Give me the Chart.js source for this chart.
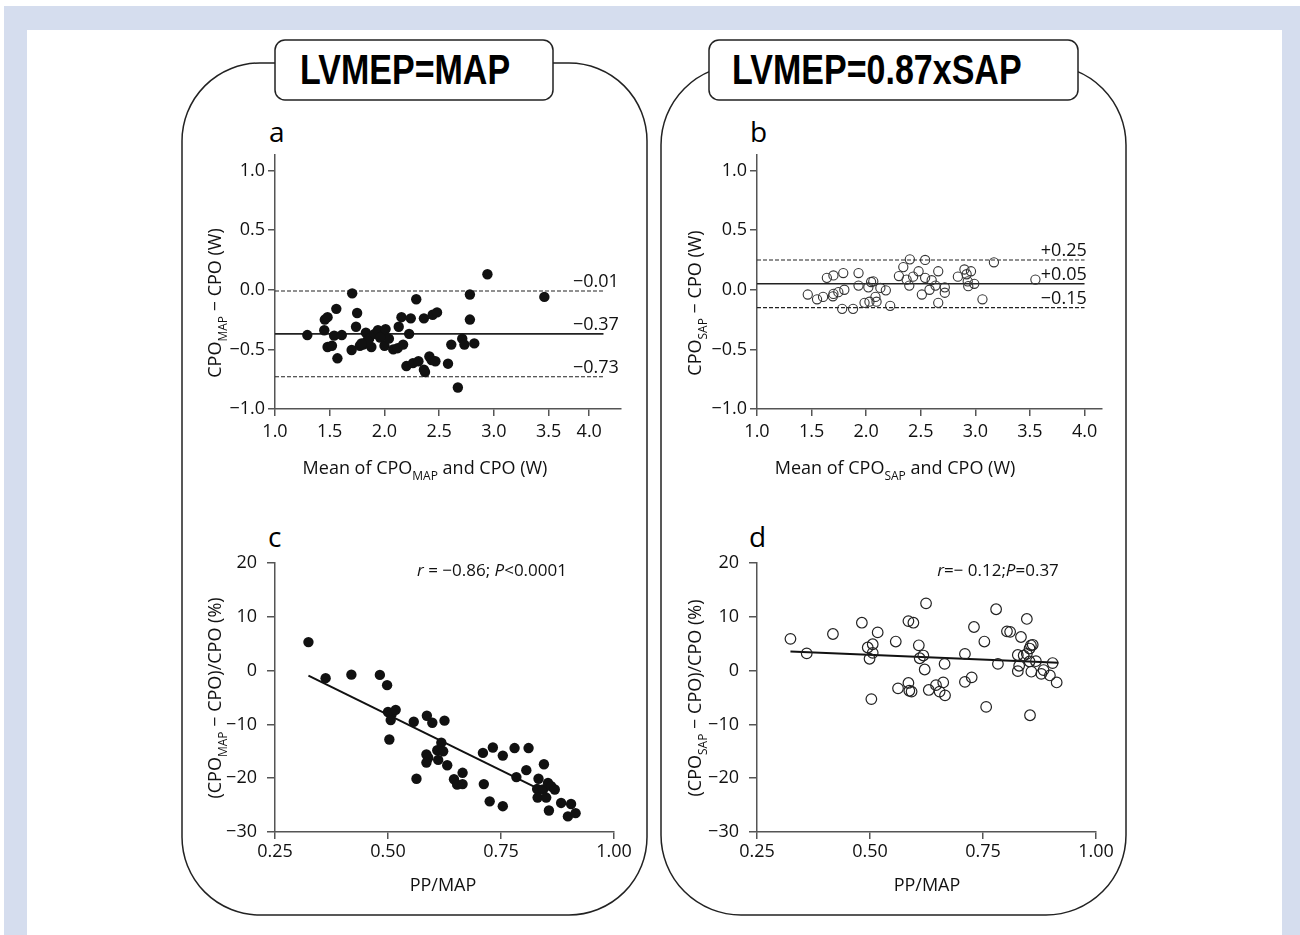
<!DOCTYPE html>
<html>
<head>
<meta charset="utf-8">
<script src="https://cdn.jsdelivr.net/npm/chart.js@4.4.0/dist/chart.umd.min.js"></script>
<style>
  body { margin: 0; background: #fff; }
  #page { position: relative; width: 1300px; height: 935px; overflow: hidden; font-family: "Open Sans", sans-serif; }
  #page svg { position: absolute; left: 0; top: 0; }
  .titre { position: absolute; top: 40px; height: 60px; line-height: 60px; font-family: "Liberation Sans", Arial, sans-serif; font-weight: bold; font-size: 42px; color: #000; white-space: nowrap; transform: scaleX(0.81); transform-origin: left center; }
  .lettre { position: absolute; font-size: 28px; line-height: 28px; color: #000; }
  .panneau { position: absolute; }
</style>
</head>
<body>
<div id="page">
  <svg width="1300" height="935">
    <rect x="4" y="6" width="1296" height="929" fill="#d5ddee"/>
    <rect x="27" y="30" width="1255" height="905" fill="#fff"/>
    <rect x="182" y="63" width="465" height="852" rx="78" fill="none" stroke="#222" stroke-width="1.5"/>
    <rect x="661" y="65" width="465" height="850" rx="80" fill="none" stroke="#222" stroke-width="1.5"/>
    <rect x="275" y="40" width="278" height="60" rx="10" fill="#fff" stroke="#222" stroke-width="1.5"/>
    <rect x="709" y="40" width="369" height="60" rx="10" fill="#fff" stroke="#222" stroke-width="1.5"/>
  </svg>
  <div class="titre" style="left:300px">LVMEP=MAP</div>
  <div class="titre" style="left:732px">LVMEP=0.87xSAP</div>
  <div class="lettre" style="left:269px;top:117px">a</div>
  <div class="lettre" style="left:750px;top:117px">b</div>
  <div class="lettre" style="left:268px;top:522px">c</div>
  <div class="lettre" style="left:749px;top:522px">d</div>

  <canvas id="chart-a" class="panneau" style="left:185px;top:140px" width="450" height="350"></canvas>
  <canvas id="chart-b" class="panneau" style="left:667px;top:140px" width="450" height="350"></canvas>
  <canvas id="chart-c" class="panneau" style="left:185px;top:535px" width="450" height="370"></canvas>
  <canvas id="chart-d" class="panneau" style="left:667px;top:535px" width="450" height="370"></canvas>
</div>

<script>
// Panneau a : Bland-Altman, CPO_MAP vs CPO
const aMoyenne = [1.295, 1.455, 1.48, 1.45, 1.56, 1.54, 1.61, 1.48, 1.52, 1.57,
  1.705, 1.75, 1.74, 1.70, 1.775, 1.83, 1.86, 1.805, 1.88, 1.91,
  1.94, 1.99, 2.01, 2.00, 2.04, 2.08, 2.12, 2.17, 2.13, 2.225,
  2.155, 2.24, 2.29, 2.36, 2.44, 2.48, 2.20, 2.26, 2.31, 2.37,
  2.41, 2.43, 2.465, 2.58, 2.61, 2.67, 2.71, 2.73, 2.78, 2.78,
  2.82, 2.94, 3.46, 1.84, 1.96, 1.79, 2.36];
const aDiff = [-0.38, -0.25, -0.23, -0.34, -0.16, -0.385, -0.38, -0.48, -0.47, -0.575,
  -0.03, -0.195, -0.31, -0.505, -0.47, -0.36, -0.41, -0.46, -0.48, -0.37,
  -0.34, -0.38, -0.33, -0.47, -0.41, -0.50, -0.49, -0.46, -0.31, -0.37,
  -0.23, -0.24, -0.08, -0.24, -0.21, -0.19, -0.64, -0.615, -0.60, -0.69,
  -0.56, -0.59, -0.60, -0.62, -0.46, -0.82, -0.41, -0.46, -0.25, -0.04,
  -0.45, 0.13, -0.06, -0.43, -0.40, -0.45, -0.67];
const aLignes = [-0.01, -0.37, -0.73];
const aTicksX = [1.0, 1.5, 2.0, 2.5, 3.0, 3.5, 3.87];
const aLabelsX = ['1.0', '1.5', '2.0', '2.5', '3.0', '3.5', '4.0'];

// Panneau b : Bland-Altman, CPO_SAP vs CPO
const bMoyenne = [1.465, 1.55, 1.605, 1.64, 1.70, 1.695, 1.70, 1.745, 1.79, 1.80,
  1.78, 1.88, 1.93, 1.93, 1.985, 2.02, 2.03, 2.045, 2.065, 2.085,
  2.095, 2.13, 2.18, 2.22, 2.30, 2.34, 2.37, 2.395, 2.40, 2.43,
  2.48, 2.51, 2.54, 2.54, 2.58, 2.60, 2.635, 2.66, 2.66, 2.72,
  2.72, 2.84, 2.90, 2.92, 2.96, 2.93, 2.935, 2.99, 3.065, 3.17, 3.55];
const bDiff = [-0.04, -0.08, -0.06, 0.10, 0.12, -0.055, -0.035, -0.02, 0.14, 0.00,
  -0.16, -0.16, 0.14, 0.035, -0.11, 0.02, -0.10, 0.065, 0.07, -0.06,
  -0.10, 0.015, -0.005, -0.135, 0.115, 0.19, 0.085, 0.035, 0.255, 0.11,
  0.155, -0.04, 0.25, 0.10, 0.00, 0.08, 0.035, 0.155, -0.11, 0.02,
  -0.025, 0.11, 0.17, 0.13, 0.155, 0.07, 0.03, 0.05, -0.08, 0.23, 0.085];
const bLignes = [0.25, 0.05, -0.15];
const bTicksX = [1.0, 1.5, 2.0, 2.5, 3.0, 3.5, 4.0];

const baTicksY = [-1.0, -0.5, 0.0, 0.5, 1.0];

// Panneau c : erreur relative CPO_MAP selon PP/MAP
const cRatio = [0.324, 0.362, 0.419, 0.482, 0.498, 0.50, 0.508, 0.506, 0.517, 0.503,
  0.557, 0.586, 0.598, 0.625, 0.563, 0.585, 0.589, 0.585, 0.609, 0.611,
  0.618, 0.622, 0.631, 0.646, 0.653, 0.665, 0.665, 0.71, 0.712, 0.725,
  0.732, 0.754, 0.754, 0.78, 0.784, 0.806, 0.811, 0.833, 0.83, 0.831,
  0.845, 0.843, 0.854, 0.85, 0.856, 0.861, 0.869, 0.883, 0.905, 0.898, 0.915];
const cErreur = [5.3, -1.4, -0.75, -0.8, -2.7, -7.7, -8.1, -9.2, -7.3, -12.8,
  -9.5, -8.4, -9.7, -9.3, -20.1, -15.6, -16.2, -17.1, -14.8, -16.6,
  -13.4, -15.0, -17.6, -20.2, -21.2, -21.1, -19.0, -15.3, -21.1, -24.3,
  -14.3, -15.8, -25.2, -14.4, -19.8, -18.5, -14.4, -20.1, -22.0, -23.6,
  -17.4, -22.1, -20.9, -23.6, -26.0, -21.5, -22.1, -24.6, -24.8, -27.1, -26.5];
const cDroiteX = [0.324, 0.839];
const cDroiteY = [-0.93, -22.2];

// Panneau d : erreur relative CPO_SAP selon PP/MAP
const dRatio = [0.324, 0.36, 0.418, 0.482, 0.495, 0.506, 0.506, 0.499, 0.517, 0.503,
  0.557, 0.585, 0.596, 0.608, 0.618, 0.61, 0.624, 0.621, 0.562, 0.585,
  0.587, 0.592, 0.63, 0.646, 0.654, 0.662, 0.666, 0.665, 0.71, 0.71,
  0.725, 0.73, 0.753, 0.757, 0.779, 0.783, 0.803, 0.81, 0.834, 0.847,
  0.827, 0.83, 0.827, 0.84, 0.847, 0.853, 0.856, 0.86, 0.853, 0.857,
  0.867, 0.879, 0.884, 0.898, 0.904, 0.913, 0.854];
const dErreur = [5.9, 3.2, 6.8, 8.9, 4.3, 4.9, 3.3, 2.2, 7.1, -5.3,
  5.4, 9.2, 8.9, 4.7, 2.8, 2.3, 12.5, 0.2, -3.3, -2.3,
  -3.75, -3.9, -3.6, -2.7, -3.9, -2.2, -4.6, 1.25, 3.1, -2.1,
  -1.25, 8.1, 5.4, -6.75, 11.4, 1.25, 7.3, 7.2, 6.25, 9.6,
  2.9, 0.9, -0.1, 2.8, 3.1, 4.1, 4.7, 4.8, 1.7, -0.2,
  1.75, -0.6, 0.1, -0.9, 1.4, -2.2, -8.3];
const dDroiteX = [0.324, 0.917];
const dDroiteY = [3.56, 1.44];

// Textes (indices en "sub", italique en "i")
const aTitreX = [['Mean of CPO', ''], ['MAP', 'sub'], [' and CPO (W)', '']];
const aTitreY = [['CPO', ''], ['MAP', 'sub'], [' \u2212 CPO (W)', '']];
const bTitreX = [['Mean of CPO', ''], ['SAP', 'sub'], [' and CPO (W)', '']];
const bTitreY = [['CPO', ''], ['SAP', 'sub'], [' \u2212 CPO (W)', '']];
const cTitreY = [['(CPO', ''], ['MAP', 'sub'], [' \u2212 CPO)/CPO (%)', '']];
const dTitreY = [['(CPO', ''], ['SAP', 'sub'], [' \u2212 CPO)/CPO (%)', '']];
const cdTitreX = [['PP/MAP', '']];
const cNote = [['r', 'i'], [' = \u22120.86; ', ''], ['P', 'i'], ['<0.0001', '']];
const dNote = [['r', 'i'], ['=\u2212 0.12;', ''], ['P', 'i'], ['=0.37', '']];

const POLICE = '"Open Sans", sans-serif';
const TAILLE = 18;
const ENCRE = '#111';
const moins = s => String(s).replace('-', '\u2212');
const signe = v => (v > 0 ? '+' : '\u2212') + Math.abs(v).toFixed(2);

function fontPour(style, size) {
  if (style === 'sub') return Math.round(size * 0.65) + 'px ' + POLICE;
  if (style === 'i') return 'italic ' + size + 'px ' + POLICE;
  return size + 'px ' + POLICE;
}

// Dessine une suite de morceaux de texte centrée sur (cx, cy)
function dessinerMorceaux(ctx, morceaux, cx, cy, size) {
  const largeurs = morceaux.map(m => { ctx.font = fontPour(m[1], size); return ctx.measureText(m[0]).width; });
  const total = largeurs.reduce((s, w) => s + w, 0);
  let x = cx - total / 2;
  const base = cy + size * 0.35;
  morceaux.forEach((m, i) => {
    ctx.font = fontPour(m[1], size);
    ctx.fillText(m[0], x, m[1] === 'sub' ? base + size * 0.3 : base);
    x += largeurs[i];
  });
}

const decorPlugin = {
  id: 'decor',
  afterDatasetsDraw(chart, args, opts) {
    const { ctx, scales } = chart;
    ctx.save();
    ctx.fillStyle = ENCRE;
    ctx.textBaseline = 'alphabetic';
    (opts.refLabels || []).forEach(r => {
      ctx.font = TAILLE + 'px ' + POLICE;
      ctx.textAlign = 'right';
      ctx.fillText(r.text, scales.x.getPixelForValue(r.x), scales.y.getPixelForValue(r.y) - 4);
    });
    ctx.textAlign = 'left';
    if (opts.note) dessinerMorceaux(ctx, opts.note, opts.notePos[0], opts.notePos[1], 17);
    if (opts.xTitle) dessinerMorceaux(ctx, opts.xTitle, opts.xTitlePos[0], opts.xTitlePos[1], TAILLE);
    if (opts.yTitle) {
      ctx.translate(opts.yTitlePos[0], opts.yTitlePos[1]);
      ctx.rotate(-Math.PI / 2);
      dessinerMorceaux(ctx, opts.yTitle, 0, 0, TAILLE);
    }
    ctx.restore();
  }
};
Chart.register(decorPlugin);

function points(xs, ys) {
  return xs.map((x, i) => ({ x: x, y: ys[i] }));
}

function graduations(extra) {
  return Object.assign({ font: { family: POLICE, size: TAILLE }, color: ENCRE, autoSkip: false, maxRotation: 0 }, extra);
}

function axe(extra) {
  return Object.assign({
    type: 'linear',
    grid: { drawOnChartArea: false, drawTicks: true, tickLength: 7, color: '#555', lineWidth: 1.5 },
    border: { display: true, color: '#555', width: 1.5 }
  }, extra);
}

function lignesRef(valeurs) {
  return valeurs.map((v, i) => ({
    data: [{ x: 1.0, y: v }, { x: 4.0, y: v }],
    showLine: true,
    pointRadius: 0,
    borderColor: '#222',
    borderWidth: i === 1 ? 1.6 : 1.1,
    borderDash: i === 1 ? [] : [4, 2]
  }));
}

function creerBA(id, moyenne, diff, lignes, ticksX, labelsX, ouvert, decor, padRight) {
  const nuage = {
    data: points(moyenne, diff),
    pointRadius: ouvert ? 4.6 : 5.2,
    pointBackgroundColor: ouvert ? 'rgba(0,0,0,0)' : '#111',
    pointBorderColor: ouvert ? '#333' : '#111',
    pointBorderWidth: ouvert ? 1.1 : 0
  };
  return new Chart(document.getElementById(id), {
    type: 'scatter',
    data: { datasets: [nuage].concat(lignesRef(lignes)) },
    options: {
      responsive: false,
      animation: false,
      layout: { padding: { left: 0, top: 15, right: padRight, bottom: 0 } },
      plugins: { legend: { display: false }, tooltip: { enabled: false }, decor: decor },
      scales: {
        x: axe({
          min: 1.0, max: 4.16,
          afterBuildTicks: s => { s.ticks = ticksX.map(v => ({ value: v })); },
          afterFit: s => { s.height = 81; },
          ticks: graduations({ padding: 5, callback: (v, i) => labelsX[i] })
        }),
        y: axe({
          min: -1.0, max: 1.13,
          afterBuildTicks: s => { s.ticks = baTicksY.map(v => ({ value: v })); },
          afterFit: s => { s.width = 90; },
          ticks: graduations({ padding: 3, callback: v => moins(v.toFixed(1)) })
        })
      }
    }
  });
}

function creerErreur(id, ratio, erreur, droiteX, droiteY, ouvert, decor) {
  const nuage = {
    data: points(ratio, erreur),
    pointRadius: ouvert ? 5.3 : 5.2,
    pointBackgroundColor: ouvert ? 'rgba(0,0,0,0)' : '#111',
    pointBorderColor: ouvert ? '#222' : '#111',
    pointBorderWidth: ouvert ? 1.2 : 0
  };
  const droite = {
    data: points(droiteX, droiteY),
    showLine: true,
    pointRadius: 0,
    borderColor: '#111',
    borderWidth: 2
  };
  return new Chart(document.getElementById(id), {
    type: 'scatter',
    data: { datasets: [nuage, droite] },
    options: {
      responsive: false,
      animation: false,
      layout: { padding: { left: 0, top: 28, right: 21, bottom: 0 } },
      plugins: { legend: { display: false }, tooltip: { enabled: false }, decor: decor },
      scales: {
        x: axe({
          min: 0.25, max: 1.0,
          afterFit: s => { s.height = 73; },
          ticks: graduations({ padding: 2, stepSize: 0.25, callback: v => v.toFixed(2) })
        }),
        y: axe({
          min: -30, max: 20,
          afterFit: s => { s.width = 90; },
          grid: { drawOnChartArea: false, drawTicks: true, tickLength: 8, color: '#555', lineWidth: 1.5 },
          ticks: graduations({ padding: 10, stepSize: 10, callback: v => moins(v) })
        })
      }
    }
  });
}

creerBA('chart-a', aMoyenne, aDiff, aLignes, aTicksX, aLabelsX, false, {
  refLabels: aLignes.map(v => ({ text: signe(v), x: 4.14, y: v })),
  xTitle: aTitreX, xTitlePos: [240, 328],
  yTitle: aTitreY, yTitlePos: [30, 163]
}, 14);

creerBA('chart-b', bMoyenne, bDiff, bLignes, bTicksX, bTicksX.map(v => v.toFixed(1)), true, {
  refLabels: bLignes.map(v => ({ text: signe(v), x: 4.02, y: v })),
  xTitle: bTitreX, xTitlePos: [228, 328],
  yTitle: bTitreY, yTitlePos: [28, 163]
}, 15);

creerErreur('chart-c', cRatio, cErreur, cDroiteX, cDroiteY, false, {
  note: cNote, notePos: [307, 35],
  xTitle: cdTitreX, xTitlePos: [258, 350],
  yTitle: cTitreY, yTitlePos: [30, 163]
});

creerErreur('chart-d', dRatio, dErreur, dDroiteX, dDroiteY, true, {
  note: dNote, notePos: [331, 35],
  xTitle: cdTitreX, xTitlePos: [260, 350],
  yTitle: dTitreY, yTitlePos: [28, 163]
});
</script>
</body>
</html>
